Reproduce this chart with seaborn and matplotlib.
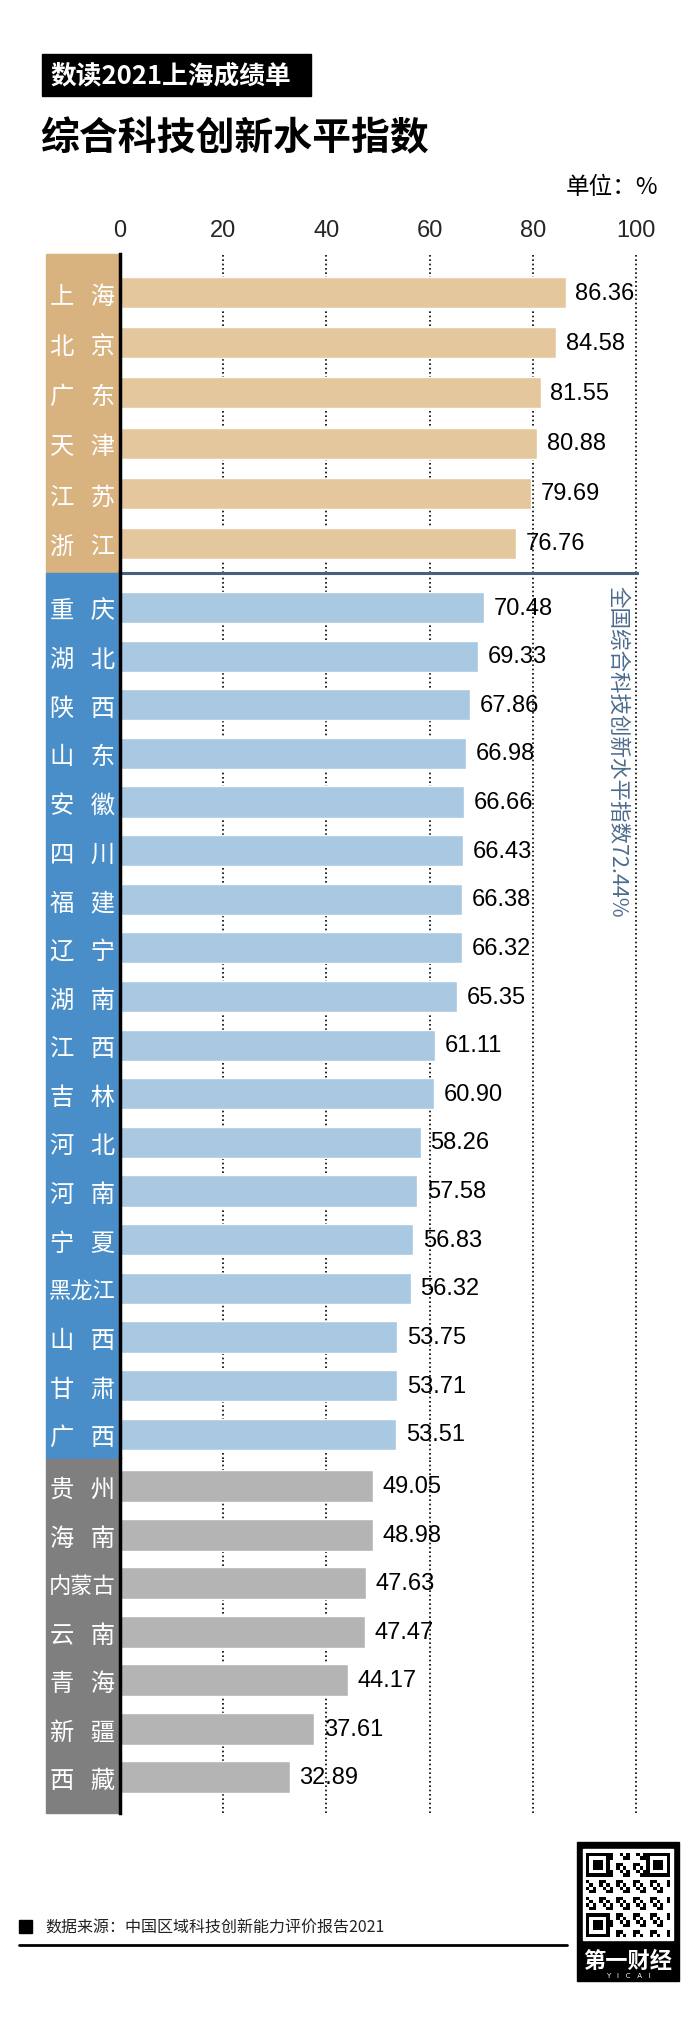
import numpy as np
import matplotlib
matplotlib.use('Agg')
import matplotlib.pyplot as plt
import seaborn as sns
from matplotlib.patches import Rectangle
from matplotlib.lines import Line2D

gold_names = ['上   海', '北   京', '广   东', '天   津', '江   苏', '浙   江']
gold_vals = [86.36, 84.58, 81.55, 80.88, 79.69, 76.76]
blue_names = ['重   庆', '湖   北', '陕   西', '山   东', '安   徽', '四   川', '福   建', '辽   宁', '湖   南',
              '江   西', '吉   林', '河   北', '河   南', '宁   夏', '黑龙江', '山   西', '甘   肃', '广   西']
blue_vals = [70.48, 69.33, 67.86, 66.98, 66.66, 66.43, 66.38, 66.32, 65.35,
             61.11, 60.90, 58.26, 57.58, 56.83, 56.32, 53.75, 53.71, 53.51]
gray_names = ['贵   州', '海   南', '内蒙古', '云   南', '青   海', '新   疆', '西   藏']
gray_vals = [49.05, 48.98, 47.63, 47.47, 44.17, 37.61, 32.89]
national_avg = 72.44
x_ticks = [0, 20, 40, 60, 80, 100]

sns.set_style('white')
plt.rcParams['font.family'] = ['Noto Sans CJK SC', 'DejaVu Sans']

W, H = 700, 2024
fig = plt.figure(figsize=(W / 100, H / 100), dpi=100)


def fx(x):
    return x / W


def fy(y):
    return 1 - y / H


left_px, right_px = 120, 637
col_left = 46

groups = [
    # names, values, column colour, bar colour, top px, bottom px, ylim, bar width
    (gold_names, gold_vals, '#d8b27f', '#e5c79d', 255, 574, (5.588, -0.767), 0.62),
    (blue_names, blue_vals, '#4a8ec9', '#a9c8e1', 574, 1460, (17.51, -0.71), 0.64),
    (gray_names, gray_vals, '#7f7f7f', '#b4b4b4', 1460, 1814, (6.742, -0.557), 0.66),
]

axes = []
for k, (names, vals, col_c, bar_c, top, bot, ylim, bw) in enumerate(groups):
    ax = fig.add_axes([fx(left_px), fy(bot), fx(right_px - left_px), (bot - top) / H])
    sns.barplot(x=vals, y=names, orient='h', color=bar_c, saturation=1,
                width=bw, errorbar=None, ax=ax)
    ax.set_xlim(0, 100.2)
    ax.set_ylim(*ylim)
    ax.set_xticks(x_ticks)
    ax.set_axisbelow(True)
    ax.grid(axis='x', color='black', linestyle=(0, (1, 1.6)), lw=1.2)
    ax.grid(axis='y', visible=False)
    ax.set_xlabel('')
    ax.set_ylabel('')
    for s in ['right', 'bottom', 'top']:
        ax.spines[s].set_visible(False)
    ax.spines['left'].set_color('black')
    ax.spines['left'].set_linewidth(2.5)
    ax.spines['left'].set_zorder(3)

    # coloured label column
    w_ax = (left_px - col_left) / (right_px - left_px)
    ax.add_patch(Rectangle((-w_ax, 0), w_ax, 1, transform=ax.transAxes,
                           clip_on=False, color=col_c, zorder=0))
    ax.tick_params(axis='y', length=0, pad=27, labelcolor='white', labelsize=17.5)
    for lbl in ax.get_yticklabels():
        lbl.set_ha('center')
        lbl.set_fontweight('medium')
        if ' ' not in lbl.get_text():
            lbl.set_fontsize(16)

    ax.bar_label(ax.containers[0], fmt='%.2f', padding=7, fontsize=17,
                 family='Liberation Sans', color='black')

    if k == 0:
        ax.xaxis.tick_top()
        ax.tick_params(axis='x', length=0, pad=9.5, labelsize=17)
        for lbl in ax.get_xticklabels():
            lbl.set_family('Liberation Sans')
    else:
        ax.tick_params(axis='x', length=0, labeltop=False, labelbottom=False)
    axes.append(ax)

# separator between top group and the rest
axes[1].spines['top'].set_visible(True)
axes[1].spines['top'].set_color('#46607e')
axes[1].spines['top'].set_linewidth(2.2)

fig.text(fx(618), fy(586), f'全国综合科技创新水平指数{national_avg:.2f}%', rotation=-90,
         ha='center', va='top', fontsize=15.5, color='#4e6b8c')

# header
fig.add_artist(Rectangle((fx(42), fy(97)), fx(311 - 42), (97 - 55) / H,
                         transform=fig.transFigure, color='black'))
fig.text(fx(50), fy(76), '数读2021上海成绩单', ha='left', va='center',
         fontsize=18.5, color='white', fontweight='bold')
fig.text(fx(40), fy(139), '综合科技创新水平指数', ha='left', va='center',
         fontsize=28, color='black', fontweight='bold')
fig.text(fx(658), fy(188), '单位：%', ha='right', va='center', fontsize=17, color='black')

# footer
fig.add_artist(Rectangle((fx(19), fy(1934)), fx(13), 13 / H,
                         transform=fig.transFigure, color='black'))
fig.text(fx(45), fy(1928), '数据来源：中国区域科技创新能力评价报告2021', ha='left',
         va='center', fontsize=11.5, color='#222222')
fig.add_artist(Line2D([fx(19), fx(567)], [fy(1946), fy(1946)],
                      transform=fig.transFigure, color='black', lw=2))

# logo block
fig.add_artist(Rectangle((fx(577), fy(1982)), fx(679 - 577), (1982 - 1843) / H,
                         transform=fig.transFigure, color='black', zorder=-2))
fig.add_artist(Rectangle((fx(583), fy(1941)), fx(90), 91 / H,
                         transform=fig.transFigure, color='white', zorder=-1))
qax = fig.add_axes([fx(586), fy(1938), fx(84), 84 / H])
qax.set_zorder(2)
n = 25
ii, jj = np.meshgrid(np.arange(n), np.arange(n), indexing='ij')
grid = ((ii * 7 + jj * 13 + ii * jj) % 5 < 2).astype(float)
for (r0, c0) in [(0, 0), (0, n - 7), (n - 7, 0)]:
    grid[r0:r0 + 7, c0:c0 + 7] = 1
    grid[r0 + 1:r0 + 6, c0 + 1:c0 + 6] = 0
    grid[r0 + 2:r0 + 5, c0 + 2:c0 + 5] = 1
qax.imshow(grid, cmap='gray_r', interpolation='nearest', aspect='auto')
qax.set_axis_off()
fig.text(fx(628), fy(1961), '第一财经', ha='center', va='center', fontsize=16,
         color='white', fontweight='bold')
fig.text(fx(628), fy(1976), 'Y   I   C   A   I', ha='center', va='center', fontsize=5,
         color='white', family='DejaVu Sans')

fig.savefig('out.png', dpi=100, facecolor='white')
